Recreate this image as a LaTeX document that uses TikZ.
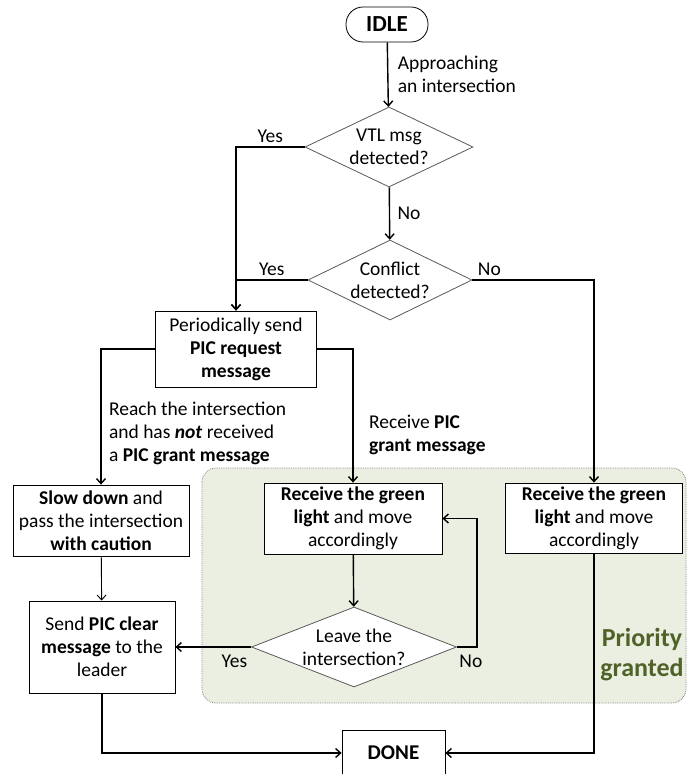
\documentclass[tikz,border=0pt]{standalone}
\usepackage{fontspec}
\setmainfont{Carlito}
\usetikzlibrary{shapes.geometric,arrows.meta}
\definecolor{prioritygreen}{HTML}{4F6228}
\definecolor{regionfill}{HTML}{EBEFE1}

\begin{document}
\begin{tikzpicture}[x=1pt, y=-1pt,
    font=\fontsize{19.5}{23}\selectfont,
    box/.style={draw, fill=white, line width=0.8pt, align=center, inner sep=0pt},
    decision/.style={draw=gray!70!black, fill=white, diamond, line width=0.8pt, align=center, inner sep=-6pt},
    flow/.style={line width=1.4pt, -{Straight Barb[length=5pt,width=9pt]}},
    thinflow/.style={line width=0.9pt, -{Straight Barb[length=5pt,width=9pt]}}]
\useasboundingbox (0,0) rectangle (688,774);

% Shaded region for granted priority
\draw[densely dotted, gray, line width=0.8pt, fill=regionfill, rounded corners=14] (202,468) rectangle (686,703);
\node[font=\fontsize{26}{30}\selectfont\bfseries, text=prioritygreen, align=center] (prio) at (642,655) {Priority\\granted};

% States and decisions
\node[box, rounded corners=17, minimum width=82, minimum height=35, font=\fontsize{23}{24}\selectfont\bfseries] (idle) at (387,24.5) {IDLE};
\node[decision, aspect=2.1, minimum width=168, minimum height=80] (vtl) at (389,147) {VTL msg\\detected?};
\node[decision, aspect=2.05, minimum width=164, minimum height=80] (conflict) at (390,280) {Conflict\\detected?};
\node[box, minimum width=161, minimum height=76] (periodic) at (236,349) {Periodically send\\\textbf{PIC request}\\\textbf{message}};
\node[box, minimum width=176, minimum height=71] (slow) at (101,520.5) {\textbf{Slow down} and\\pass the intersection\\\textbf{with caution}};
\node[box, minimum width=178, minimum height=71] (middle) at (353,518.5) {\textbf{Receive the green}\\\textbf{light} and move\\accordingly};
\node[box, minimum width=177, minimum height=70] (right) at (594,518) {\textbf{Receive the green}\\\textbf{light} and move\\accordingly};
\node[box, minimum width=146, minimum height=92] (send) at (102,647) {Send \textbf{PIC clear}\\\textbf{message} to the\\leader};
\node[decision, aspect=2.56, minimum width=205, minimum height=80] (leave) at (354,647) {Leave the\\intersection?};
\node[box, minimum width=103, minimum height=46, font=\fontsize{21}{24}\selectfont\bfseries] (done) at (393.5,753) {DONE};

% Connectors
\draw[flow] (idle) -- node[right, align=left, xshift=6] {Approaching\\an intersection} (vtl);
\draw[flow] (vtl.west) -| node[pos=0.25, above] {Yes} (periodic.north);
\draw[flow] (vtl) -- node[right, xshift=4] {No} (conflict);
\draw[flow] (conflict.west) -| node[pos=0.25, above] {Yes} (periodic.north);
\draw[flow] (conflict.east) -| node[pos=0.07, above] {No} (right.north);
\draw[flow] (periodic.west) -| node[pos=0.81, right, align=left, xshift=4] {Reach the intersection\\and has \textbf{\textit{not}} received\\a \textbf{PIC grant message}} (slow.north);
\draw[flow] (periodic.east) -| node[pos=0.82, right, align=left, xshift=12] {Receive \textbf{PIC}\\\textbf{grant message}} (middle.north);
\draw[thinflow] (slow) -- (send);
\draw[flow] (middle) -- (leave);
\draw[flow] (leave.west) -- node[pos=0.22, below, yshift=-4] {Yes} (send.east);
\draw[flow] (leave.east) -- node[pos=0.7, below, yshift=-4] {No} ++(20,0) |- (middle.east);
\draw[flow] (send.south) |- (done.west);
\draw[flow] (right.south) |- (done.east);
\end{tikzpicture}
\end{document}
